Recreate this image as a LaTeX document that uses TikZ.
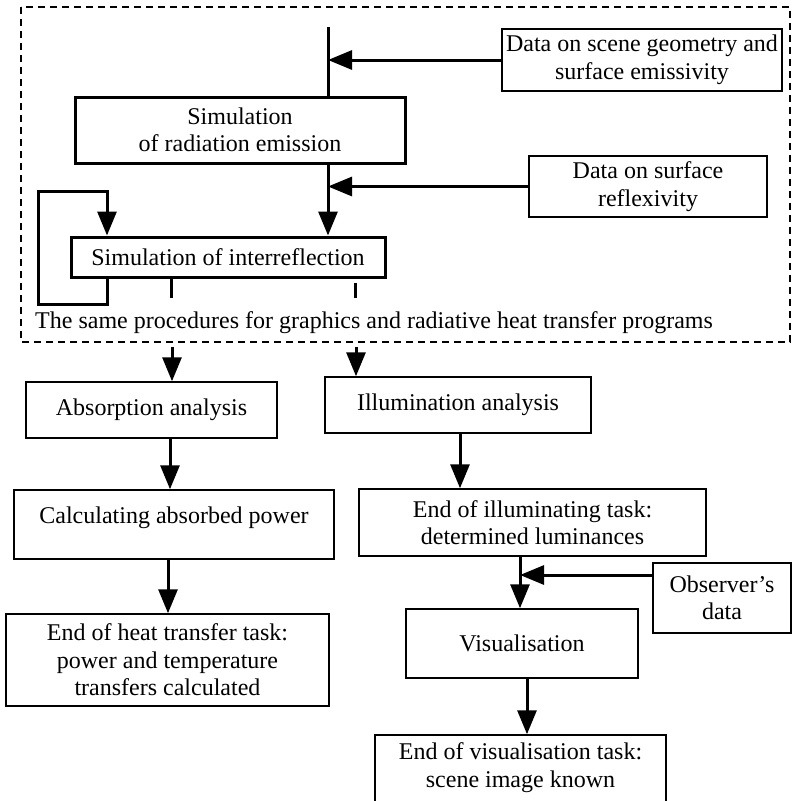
\documentclass[tikz,border=0pt]{standalone}
\usepackage{fontspec}
\setmainfont{Liberation Serif}
\usetikzlibrary{arrows.meta}
\newcommand\fs{\fontsize{24}{27.5}\selectfont}
\begin{document}
\begin{tikzpicture}[x=1pt,y=-1pt,
  every node/.style={font=\fs, align=center, inner sep=0pt},
  thinbox/.style={draw, line width=1.5pt},
  thickbox/.style={draw, line width=3pt},
  ln/.style={line width=3pt},
  arr/.style={line width=3pt, -{Triangle[length=24pt,width=19pt]}},
  grp/.style={line width=1.2pt, dash pattern=on 7pt off 5pt}
]
\clip (0,0) rectangle (792,801);
\fill[white] (0,0) rectangle (792,801);

% dashed group
\draw[grp] (21,7) rectangle (790,342);

% nodes in group
\node[thickbox, minimum width=330pt, minimum height=66pt] (emis) at (240,130) {Simulation\\of radiation emission};
\node[thinbox, minimum width=280pt, minimum height=62pt] (geom) at (642,60) {Data on scene geometry and\\surface emissivity};
\node[thinbox, minimum width=238pt, minimum height=61pt] (refl) at (648,186.5) {Data on surface\\reflexivity};
\node[thickbox, minimum width=314pt, minimum height=40pt] (inter) at (228,257) {Simulation of interreflection};
\node[anchor=base west] (same) at (35,328) {The same procedures for graphics and radiative heat transfer programs};

% main line
\coordinate (t0) at (328,27);
\draw[ln] (t0) -- (t0 |- emis.north);
\draw[arr] (geom.west) -- (t0 |- geom.west);
\draw[arr] (t0 |- emis.south) -- (t0 |- inter.north);
\draw[arr] (refl.west) -- (t0 |- refl.west);

% loop
\coordinate (lp) at (107,0);
\coordinate (lpl) at (38,191);
\draw[arr, line join=miter] (inter.south -| lp) -- ++(0,26) -| (lpl) -| (inter.north -| lp);

% stubs
\coordinate (s1) at (171,298);
\coordinate (s2) at (355,298);
\coordinate (s2t) at (355,283);
\draw[ln] (inter.south -| s1) -- (s1);
\draw[ln] (s2t) -- (s2);

% lower left column
\node[thinbox, minimum width=251pt, minimum height=56pt] (abs) at (151.5,410) {Absorption analysis};
\node[thinbox, minimum width=320pt, minimum height=69pt, text height=16pt, text depth=19pt] (calc) at (174,524.5) {Calculating absorbed power};
\node[thinbox, minimum width=323pt, minimum height=92pt] (heat) at (167.5,660) {End of heat transfer task:\\power and temperature\\transfers calculated};

\coordinate (a1) at (172,347);
\draw[arr] (a1) -- (a1 |- abs.north);
\coordinate (x170) at (170,0);
\draw[arr] (abs.south -| x170) -- (calc.north -| x170);
\coordinate (x168) at (168,0);
\draw[arr] (calc.south -| x168) -- (heat.north -| x168);

% right column
\node[thinbox, minimum width=266pt, minimum height=56pt] (ill) at (458,405) {Illumination analysis};
\node[thinbox, minimum width=347pt, minimum height=67pt] (endill) at (532.5,522.5) {End of illuminating task:\\determined luminances};
\node[thinbox, minimum width=138pt, minimum height=70pt] (obs) at (722,598) {Observer’s\\data};
\node[thinbox, minimum width=232pt, minimum height=69pt] (vis) at (522,643.5) {Visualisation};
\node[thinbox, minimum width=291pt, minimum height=90pt] (endvis) at (520.5,780) {};
\node (endvistxt) at (520.5,767.5) {End of visualisation task:\\scene image known};

\coordinate (a2) at (356,347);
\draw[arr] (a2) -- (a2 |- ill.north);
\coordinate (x460) at (460,0);
\draw[arr] (ill.south -| x460) -- (endill.north -| x460);
\coordinate (x520) at (520,0);
\draw[arr] (endill.south -| x520) -- (vis.north -| x520);
\coordinate (oy) at (0,575);
\draw[arr] (obs.west |- oy) -- (x520 |- oy);
\coordinate (x527) at (527,0);
\draw[arr] (vis.south -| x527) -- (endvis.north -| x527);
\end{tikzpicture}
\end{document}
